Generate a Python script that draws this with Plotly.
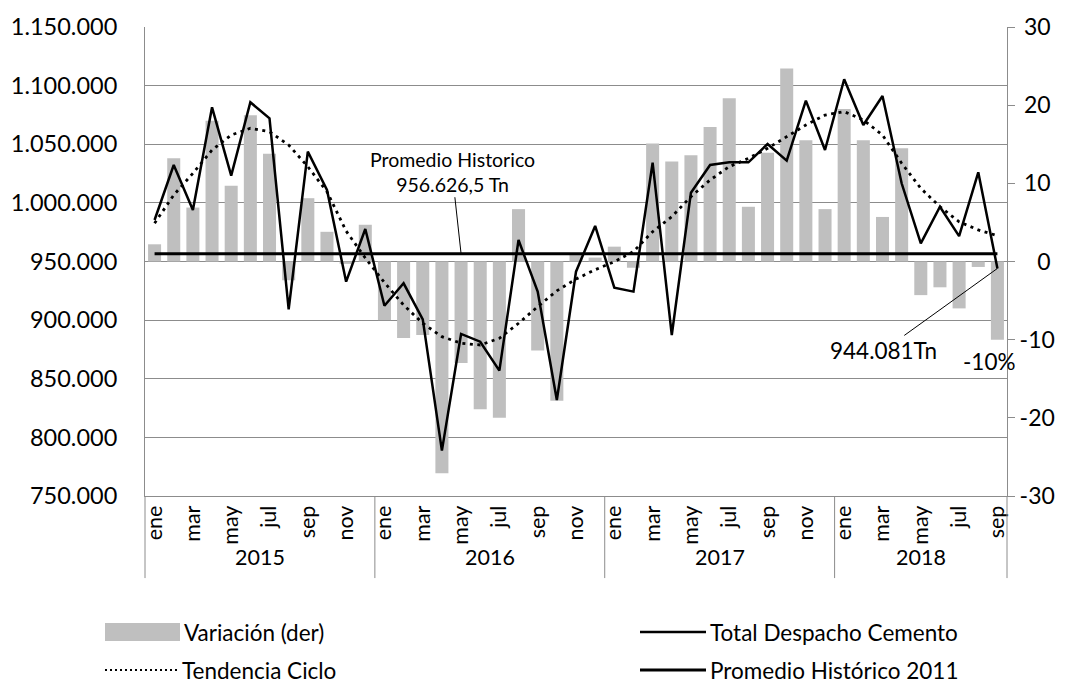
import plotly.graph_objects as go

# ---------------- data ----------------
years = ["2015", "2016", "2017", "2018"]
months = ["ene", "feb", "mar", "abr", "may", "jun", "jul", "ago", "sep", "oct", "nov", "dic"]
months_per_year = [12, 12, 12, 9]

categories = [f"{m} {y}" for y, n in zip(years, months_per_year) for m in months[:n]]
month_labels = [c.split()[0] for c in categories]

# Total despacho de cemento (Tn) - left axis
total_despacho = [
    985400, 1032300, 993900, 1081500, 1023200, 1085800, 1072100, 909200, 1043700, 1011000, 932800, 977700,
    912300, 931400, 900700, 788700, 888200, 881600, 856900, 968300, 924300, 831900, 941300, 980300,
    927700, 924300, 1034300, 887300, 1008700, 1032300, 1034600, 1034600, 1050200, 1036000, 1087200, 1045100,
    1105400, 1066400, 1091200, 1016700, 965500, 996700, 971700, 1026100, 944081,
]

# Tendencia ciclo (Tn) - left axis
tendencia_ciclo = [
    982600, 1006700, 1025200, 1045100, 1057900, 1063600, 1060700, 1049400, 1030900, 1009500, 976000, 953000,
    932000, 912900, 897300, 885900, 880300, 878800, 884500, 897300, 911500, 925000, 935000, 943000,
    949800, 958500, 975400, 988200, 1005300, 1019500, 1030900, 1038000, 1046500, 1056400, 1066400, 1074900,
    1077800, 1070700, 1057900, 1033800, 1012400, 996700, 983900, 976900, 972000,
]

# Variación interanual (%) - right axis
variacion = [
    2.2, 13.2, 6.9, 18.0, 9.7, 18.7, 13.8, -2.4, 8.1, 3.8, -0.3, 4.7,
    -7.5, -9.8, -9.4, -27.1, -13.0, -18.9, -20.0, 6.7, -11.4, -17.8, 1.0, 0.5,
    1.9, -0.8, 15.1, 12.8, 13.6, 17.2, 20.9, 7.0, 13.9, 24.7, 15.5, 6.7,
    19.5, 15.5, 5.7, 14.5, -4.3, -3.3, -6.0, -0.7, -10.0,
]

promedio_historico_value = 956626.5
promedio_historico = [promedio_historico_value] * len(categories)

series_names = ["Variación (der)", "Total Despacho Cemento", "Tendencia Ciclo", "Promedio Histórico 2011"]

right_ticks = [-30, -20, -10, 0, 10, 20, 30]

# ---------------- styling ----------------
FONT = "Lato"
GREY = "#8C8C8C"
BAR = "#BFBFBF"


def right_label(v):
    s = f"{v:d}"
    pad = ""
    if v >= 0:
        pad += "\u2009\u200a"
    digits = len(s.lstrip("-"))
    pad += "\u2007" * (2 - digits)
    return pad + s


fig = go.Figure()

fig.add_trace(go.Bar(
    x=categories, y=variacion, yaxis="y", name=series_names[0],
    marker=dict(color=BAR, line=dict(width=0)), width=0.68, showlegend=False,
))
fig.add_trace(go.Scatter(
    x=categories, y=total_despacho, yaxis="y2", mode="lines", name=series_names[1],
    line=dict(color="black", width=2.5), showlegend=False,
))
fig.add_trace(go.Scatter(
    x=categories, y=tendencia_ciclo, yaxis="y2", mode="lines", name=series_names[2],
    line=dict(color="black", width=2.8, dash="3px,4.5px"), showlegend=False,
))
fig.add_trace(go.Scatter(
    x=categories, y=promedio_historico, yaxis="y2", mode="lines", name=series_names[3],
    line=dict(color="black", width=3), showlegend=False,
))

# ---------------- axes ----------------
fig.update_layout(
    width=1069, height=683,
    margin=dict(l=145, r=62, t=27, b=187, autoexpand=False),
    paper_bgcolor="white", plot_bgcolor="white",
    separators=",.",
    font=dict(family=FONT, size=21, color="black"),
    xaxis=dict(
        type="category", range=[-0.5, len(categories) - 0.5],
        tickmode="array", tickvals=categories[::2], ticktext=month_labels[::2],
        tickangle=-90, tickfont=dict(size=21.5), ticks="", automargin=False,
        showline=True, linecolor=GREY, linewidth=1, showgrid=False, anchor="y",
    ),
    yaxis=dict(
        side="right", range=[-30, 30], automargin=False,
        tickmode="array", tickvals=right_ticks, ticktext=[right_label(v) for v in right_ticks],
        ticks="outside", ticklen=7, tickcolor=GREY, tickfont=dict(size=23),
        showline=True, linecolor=GREY, linewidth=1, showgrid=False, zeroline=False,
    ),
    yaxis2=dict(
        overlaying="y", side="left", range=[750000, 1150000], dtick=50000, automargin=False,
        tickformat=",d", tickfont=dict(size=23.5), ticks="", ticklabelstandoff=22,
        showline=True, linecolor=GREY, linewidth=1,
        showgrid=True, gridcolor=GREY, gridwidth=1, zeroline=False,
    ),
)

# ---------------- year labels and dividers ----------------
n_total = len(categories)
shapes = []
annotations = []
start = 0
bounds = [0]
for y, n in zip(years, months_per_year):
    annotations.append(dict(
        x=start + (n - 1) / 2, y=-0.13, xref="x", yref="paper",
        text=y, showarrow=False, font=dict(size=21.5), xanchor="center", yanchor="middle",
    ))
    start += n
    bounds.append(start)
for b in bounds:
    shapes.append(dict(
        type="line", xref="paper", yref="paper",
        x0=b / n_total, x1=b / n_total, y0=0, y1=-0.175,
        line=dict(color=GREY, width=1),
    ))

# ---------------- chart annotations ----------------
annotations.append(dict(
    x=categories[16], y=promedio_historico_value, xref="x", yref="y2",
    text="Promedio Historico<br>956.626,5 Tn", showarrow=True, arrowhead=0,
    arrowwidth=1, arrowcolor="black", ax=-9, ay=-82,
    font=dict(size=19.5), align="center",
))
annotations.append(dict(
    x=categories[-1], y=total_despacho[-1], xref="x", yref="y2",
    text="944.081Tn", showarrow=True, arrowhead=0,
    arrowwidth=1, arrowcolor="black", ax=-114, ay=82,
    font=dict(size=22.5),
))
annotations.append(dict(
    x=categories[-1], y=variacion[-1], xref="x", yref="y",
    text=f"{variacion[-1]:.0f}%", showarrow=False, yanchor="top", yshift=-6, xshift=-8,
    font=dict(size=22.5),
))

# ---------------- custom legend ----------------
def px_x(px):
    return (px - 145) / 862


def px_y(py):
    return (496 - py) / 469


legend_items = [
    (series_names[0], 105, 180, 632, "bar"),
    (series_names[1], 640, 706, 632, "solid"),
    (series_names[2], 105, 178, 670, "dot"),
    (series_names[3], 640, 706, 670, "thick"),
]
for name, x0, x1, yc, kind in legend_items:
    if kind == "bar":
        shapes.append(dict(type="rect", xref="paper", yref="paper",
                           x0=px_x(x0), x1=px_x(x1), y0=px_y(yc + 9), y1=px_y(yc - 9),
                           fillcolor=BAR, line=dict(width=0)))
    else:
        width = 2.5 if kind != "thick" else 3
        dash = "solid" if kind != "dot" else "2px,3px"
        shapes.append(dict(type="line", xref="paper", yref="paper",
                           x0=px_x(x0), x1=px_x(x1), y0=px_y(yc), y1=px_y(yc),
                           line=dict(color="black", width=width if kind != "dot" else 2, dash=dash)))
    annotations.append(dict(
        x=px_x(x1 + 2), y=px_y(yc), xref="paper", yref="paper",
        text=name, showarrow=False, xanchor="left", yanchor="middle",
        font=dict(size=22.5),
    ))

fig.update_layout(shapes=shapes, annotations=annotations)

fig.write_html(
    "out.html",
    config={"displayModeBar": False},
    post_script="document.body.style.margin='0';",
)
